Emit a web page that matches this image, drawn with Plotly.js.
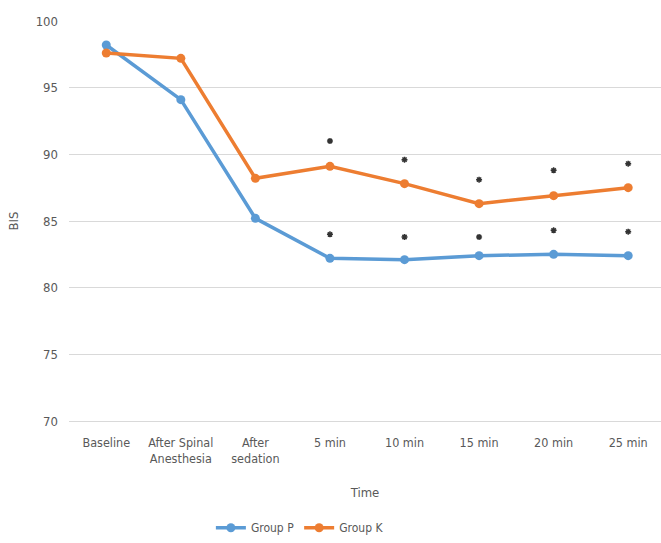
<!DOCTYPE html>
<html><head><meta charset="utf-8">
<script src="https://cdn.plot.ly/plotly-3.0.1.min.js"></script>
<style>html,body{margin:0;padding:0;background:#fff}</style>
</head><body><div id="chart" style="width:661px;height:543px"></div>
<script>
const categories = ["Baseline", "After Spinal<br>Anesthesia", "After<br>sedation", "5 min", "10 min", "15 min", "20 min", "25 min"];
const groupP = [98.2, 94.1, 85.2, 82.2, 82.1, 82.4, 82.5, 82.4];
const groupK = [97.6, 97.2, 88.2, 89.1, 87.8, 86.3, 86.9, 87.5];
const sigCats = ["5 min", "10 min", "15 min", "20 min", "25 min"];
const sigK = [91.0, 89.6, 88.1, 88.8, 89.3];
const sigP = [84.0, 83.8, 83.8, 84.3, 84.2];
const yTicks = [70, 75, 80, 85, 90, 95, 100];

const font = "Liberation Sans Narrow, DejaVu Sans Condensed, Roboto, sans-serif";
const traces = [
  {x: categories, y: groupP, name: "Group P", type: "scatter", mode: "lines+markers",
   line: {color: "#5B9BD5", width: 3.5}, marker: {color: "#5B9BD5", size: 9}},
  {x: categories, y: groupK, name: "Group K", type: "scatter", mode: "lines+markers",
   line: {color: "#ED7D31", width: 3.5}, marker: {color: "#ED7D31", size: 9}},
  {x: sigCats, y: sigK, type: "scatter", mode: "markers", showlegend: false, hoverinfo: "skip",
   marker: {symbol: "asterisk-open", size: 5, color: "#333", line: {color: "#333", width: 1.5}}},
  {x: sigCats, y: sigP, type: "scatter", mode: "markers", showlegend: false, hoverinfo: "skip",
   marker: {symbol: "asterisk-open", size: 5, color: "#333", line: {color: "#333", width: 1.5}}}
];
const layout = {
  width: 661, height: 543,
  margin: {l: 69, r: 0, t: 21, b: 122},
  paper_bgcolor: "#fff", plot_bgcolor: "#fff",
  font: {family: font, size: 12, color: "#595959"},
  showlegend: true,
  legend: {orientation: "h", x: 0.39, xanchor: "center", y: -0.267, yanchor: "middle",
           font: {size: 12, color: "#595959"}, itemwidth: 30, tracegroupgap: 0},
  xaxis: {type: "category", categoryorder: "array", categoryarray: categories,
          range: [-0.5, 7.44], showgrid: false, showline: true, linecolor: "#d9d9d9", linewidth: 1,
          ticks: "", ticklabelstandoff: 10, tickfont: {size: 12.5, color: "#595959"},
          title: {text: "Time", font: {size: 13, color: "#595959"}, standoff: 22}},
  yaxis: {range: [70, 100], tickvals: yTicks, showgrid: true, gridcolor: "#d9d9d9", gridwidth: 1,
          zeroline: false, showline: false, ticks: "", ticklabelstandoff: 10,
          tickfont: {size: 13, color: "#595959"},
          title: {text: "BIS", font: {size: 13, color: "#595959"}, standoff: 14}}
};
Plotly.newPlot("chart", traces, layout, {displayModeBar: false, staticPlot: true});
</script></body></html>
